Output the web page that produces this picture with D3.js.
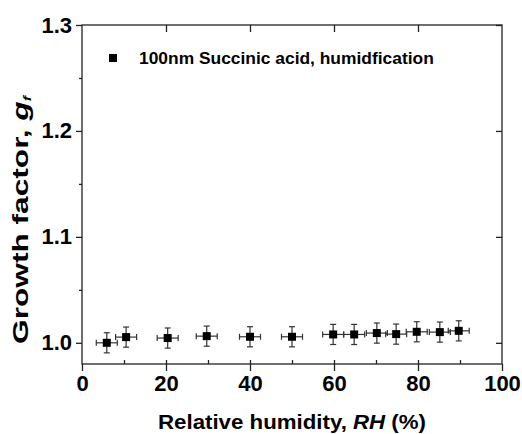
<!DOCTYPE html>
<html><head><meta charset="utf-8">
<script src="https://cdn.jsdelivr.net/npm/d3@7"></script>
<style>body{margin:0;background:#fff}svg{display:block}text{font-family:"Liberation Sans",Arial,sans-serif;font-weight:bold;fill:#000}</style>
</head><body><svg id="c" width="522" height="434"></svg>
<script>
const rh      = [5.9, 10.5, 20.4, 29.7, 40.0, 50.0, 59.8, 64.8, 70.2, 74.8, 79.7, 85.2, 89.7];
const gf      = [1.000, 1.0054, 1.0045, 1.0063, 1.0057, 1.0057, 1.0079, 1.0079, 1.0092, 1.0082, 1.0104, 1.0101, 1.0113];
const rhErr   = [2.5, 2.5, 2.5, 2.5, 2.5, 2.5, 2.5, 2.5, 2.5, 2.5, 2.5, 2.5, 2.5];
const gfErr   = [0.0095, 0.0095, 0.0095, 0.0095, 0.0095, 0.0095, 0.0095, 0.0095, 0.0095, 0.0095, 0.0095, 0.0095, 0.0095];
const xTicks  = [0, 20, 40, 60, 80, 100];
const xMinor  = [10, 20, 30, 40, 50, 60, 70, 80, 90];
const yTicks  = [1.0, 1.1, 1.2, 1.3];
const yMinor  = [1.05, 1.15, 1.25];
const legendLabel = "100nm Succinic acid, humidfication";

const L = 82, R = 502, T = 25, B = 364;
const svg = d3.select("#c");
const x = d3.scaleLinear().domain([0, 100]).range([L, R]);
const y = d3.scaleLinear().domain([0.98, 1.3]).range([B, T]);
const axisCol = "#222";

svg.append("rect").attr("x", L).attr("y", T).attr("width", R - L).attr("height", B - T)
  .attr("fill", "none").attr("stroke", axisCol).attr("stroke-width", 1.3);

function styleAxis(g) {
  g.select(".domain").remove();
  g.selectAll("line").attr("stroke", axisCol).attr("stroke-width", 1.3);
}

svg.append("g").attr("transform", `translate(0,${B})`)
  .call(d3.axisBottom(x).tickValues(xTicks).tickSize(7).tickPadding(4).tickFormat(d3.format("d")))
  .call(styleAxis)
  .selectAll("text").style("font-size", "22px");
svg.append("g").attr("transform", `translate(0,${B})`)
  .call(d3.axisTop(x).tickValues(xMinor).tickSize(4).tickFormat(""))
  .call(styleAxis);
svg.append("g").attr("transform", `translate(0,${T})`)
  .call(d3.axisBottom(x).tickValues([20, 40, 60, 80]).tickSize(7).tickFormat(""))
  .call(styleAxis);
svg.append("g").attr("transform", `translate(${L},0)`)
  .call(d3.axisLeft(y).tickValues(yTicks).tickSize(6).tickPadding(4).tickFormat(d3.format(".1f")))
  .call(styleAxis)
  .selectAll("text").style("font-size", "22px");
svg.append("g").attr("transform", `translate(${L},0)`)
  .call(d3.axisLeft(y).tickValues(yMinor).tickSize(3).tickFormat(""))
  .call(styleAxis);
svg.append("g").attr("transform", `translate(${R},0)`)
  .call(d3.axisLeft(y).tickValues(yTicks).tickSize(6).tickFormat(""))
  .call(styleAxis);

svg.append("text").attr("x", 292).attr("y", 429).attr("text-anchor", "middle")
  .style("font-size", "21px").attr("textLength", 268).attr("lengthAdjust", "spacingAndGlyphs")
  .html('Relative humidity, <tspan font-style="italic">RH</tspan> (%)');
const yt = svg.append("text").attr("transform", `translate(28,220) rotate(-90)`)
  .attr("text-anchor", "middle").style("font-size", "22px")
  .attr("textLength", 248).attr("lengthAdjust", "spacingAndGlyphs");
yt.append("tspan").text("Growth factor, ");
yt.append("tspan").attr("font-style", "italic").text("g");
yt.append("tspan").attr("font-style", "italic").attr("font-size", "11px").attr("dy", 3).text("f");

const data = rh.map((v, i) => ({x: v, y: gf[i], ex: rhErr[i], ey: gfErr[i]}));
const eb = "#333", cap = 3;
const gE = svg.append("g").attr("stroke", eb).attr("stroke-width", 1.2);
data.forEach(d => {
  const cx = x(d.x), cy = y(d.y);
  const g = gE.append("g");
  g.append("line").attr("x1", x(d.x - d.ex)).attr("x2", x(d.x + d.ex)).attr("y1", cy).attr("y2", cy);
  g.append("line").attr("x1", x(d.x - d.ex)).attr("x2", x(d.x - d.ex)).attr("y1", cy - cap).attr("y2", cy + cap);
  g.append("line").attr("x1", x(d.x + d.ex)).attr("x2", x(d.x + d.ex)).attr("y1", cy - cap).attr("y2", cy + cap);
  g.append("line").attr("x1", cx).attr("x2", cx).attr("y1", y(d.y - d.ey)).attr("y2", y(d.y + d.ey));
  g.append("line").attr("x1", cx - cap).attr("x2", cx + cap).attr("y1", y(d.y - d.ey)).attr("y2", y(d.y - d.ey));
  g.append("line").attr("x1", cx - cap).attr("x2", cx + cap).attr("y1", y(d.y + d.ey)).attr("y2", y(d.y + d.ey));
});
svg.append("g").selectAll("rect").data(data).join("rect")
  .attr("x", d => x(d.x) - 4).attr("y", d => y(d.y) - 4)
  .attr("width", 8).attr("height", 8).attr("fill", "#000");

svg.append("rect").attr("x", 109).attr("y", 54).attr("width", 8).attr("height", 8).attr("fill", "#000");
svg.append("text").attr("x", 139).attr("y", 64).style("font-size", "17.4px").text(legendLabel);
</script></body></html>
